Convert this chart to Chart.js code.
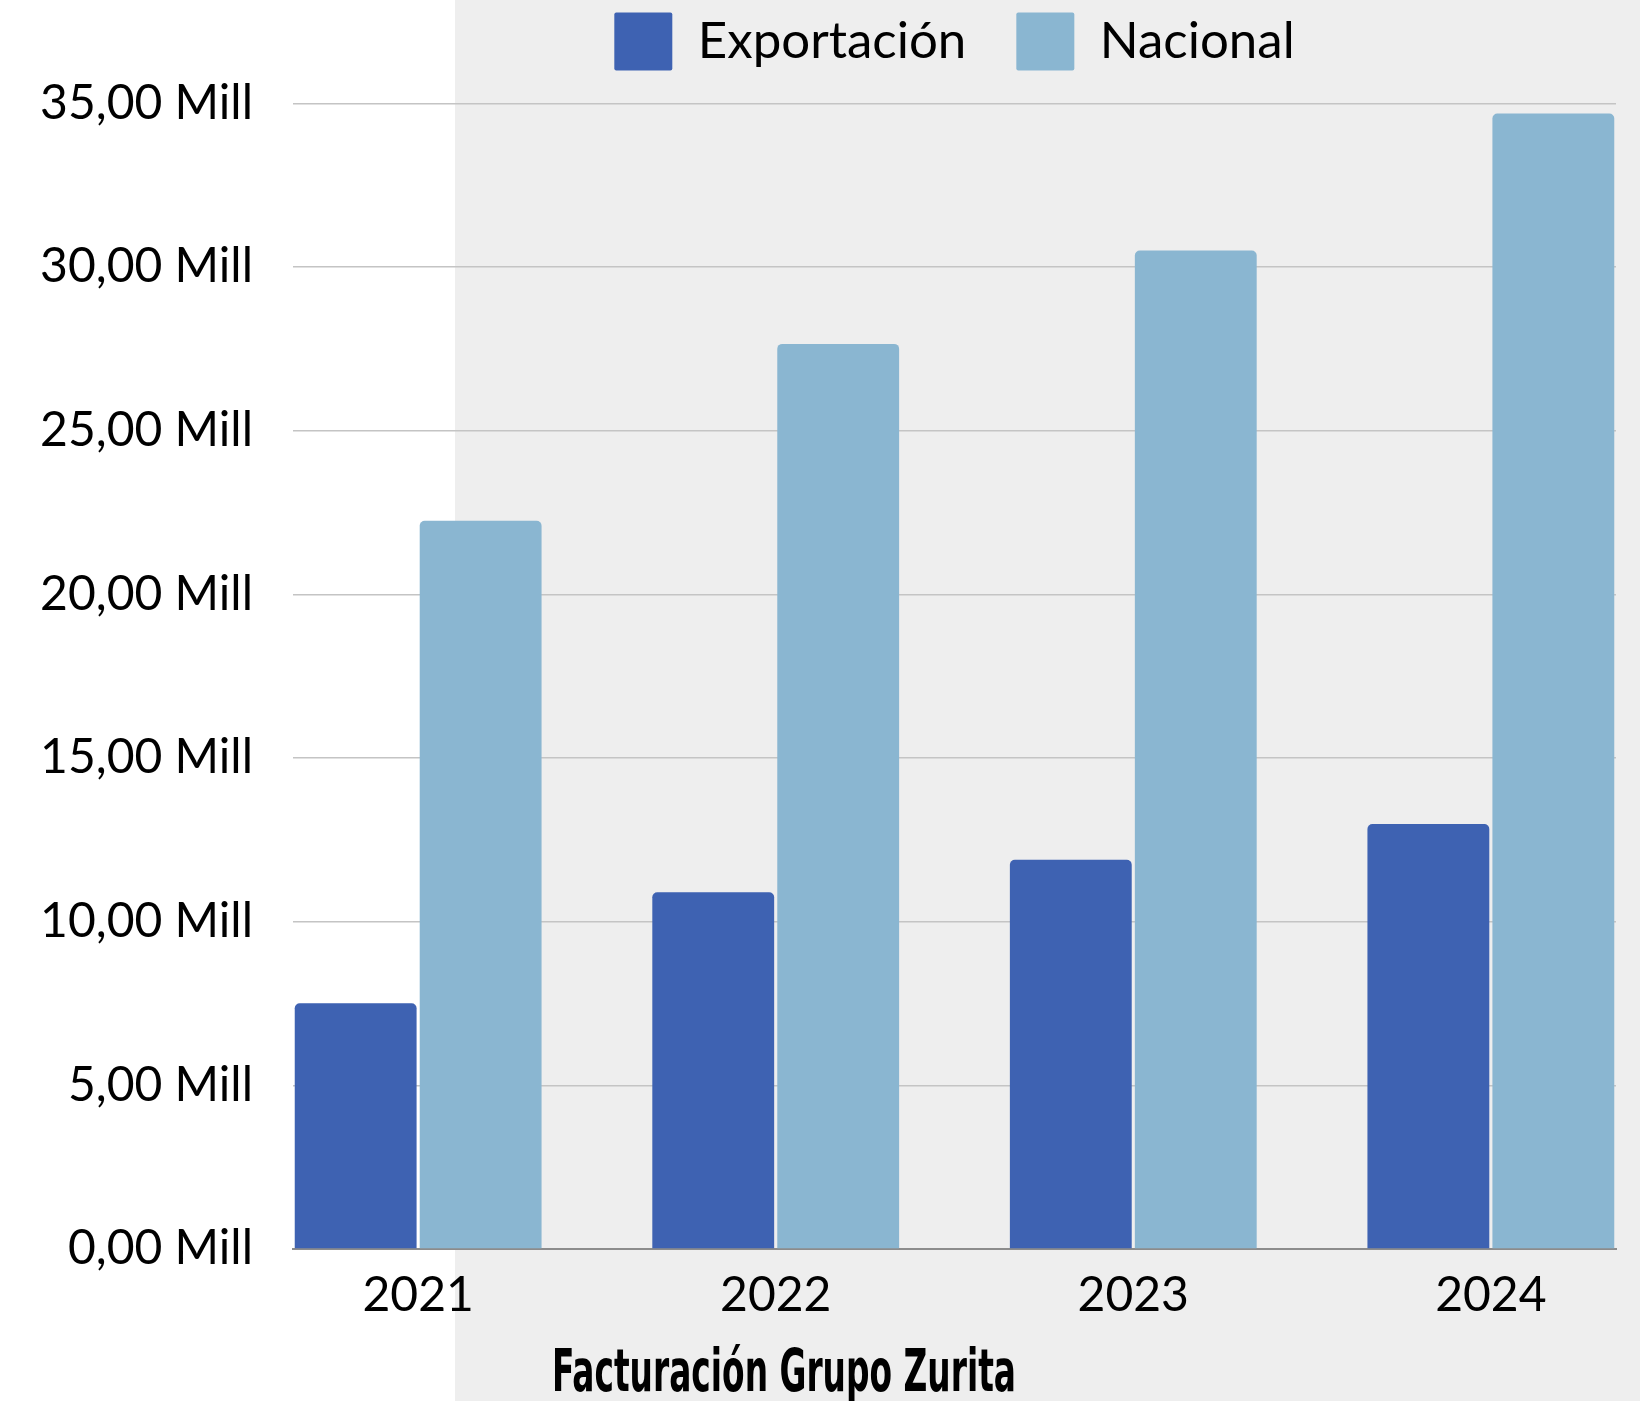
<!DOCTYPE html>
<html>
<head>
<meta charset="utf-8">
<script src="https://cdn.jsdelivr.net/npm/chart.js@4.4.1/dist/chart.umd.min.js"></script>
<style>
  html, body { margin: 0; padding: 0; }
  body {
    width: 1640px;
    height: 1401px;
    background: linear-gradient(to right, #ffffff 455px, #eeeeee 455px);
  }
  #wrap { width: 1640px; height: 1401px; }
</style>
</head>
<body>
<div id="wrap"><canvas id="chart"></canvas></div>
<script>
const years = ["2021", "2022", "2023", "2024"];
const exportacion = [7.51, 10.9, 11.89, 12.98];
const nacional = [22.25, 27.65, 30.5, 34.69];
const yTicks = [0, 5, 10, 15, 20, 25, 30, 35];
const titleText = "Facturación Grupo Zurita";

const BLUE = "#3e62b2";
const LIGHT = "#8ab6d1";
const labelFont = { family: "Lato, 'Open Sans', sans-serif", size: 48 };

// chart title drawn below the axis, condensed like the original
const bottomTitle = {
  id: "bottomTitle",
  afterDraw(chart) {
    const ctx = chart.ctx;
    ctx.save();
    ctx.font = "bold 58px 'Liberation Sans Narrow', 'DejaVu Sans Condensed', sans-serif";
    ctx.fillStyle = "#000";
    ctx.textBaseline = "alphabetic";
    ctx.textAlign = "center";
    const w = ctx.measureText(titleText).width;
    ctx.translate(784, 1391);
    ctx.scale(464 / w, 1);
    ctx.fillText(titleText, 0, 0);
    ctx.restore();
  },
};

const toPoints = (vals) => vals.map((v, i) => ({ x: i, y: v }));

new Chart(document.getElementById("chart"), {
  type: "bar",
  data: {
    datasets: [
      {
        label: "Exportación",
        data: toPoints(exportacion),
        backgroundColor: BLUE,
        borderRadius: { topLeft: 5, topRight: 5 },
        borderSkipped: "bottom",
      },
      {
        label: "Nacional",
        data: toPoints(nacional),
        backgroundColor: LIGHT,
        borderRadius: { topLeft: 5, topRight: 5 },
        borderSkipped: "bottom",
      },
    ],
  },
  options: {
    responsive: true,
    maintainAspectRatio: false,
    animation: false,
    categoryPercentage: 0.699,
    barPercentage: 0.975,
    layout: { padding: { left: 0, right: 24, top: -37.5, bottom: 0 } },
    plugins: {
      tooltip: { enabled: false },
      title: { display: false },
      // empty subtitle only keeps a gap between legend and plot
      subtitle: {
        display: true,
        text: "",
        position: "top",
        padding: 0,
        font: { size: 19, lineHeight: 1.2 },
      },
      legend: {
        position: "top",
        fullSize: false,
        weight: 3000,
        labels: {
          boxWidth: 58,
          boxHeight: 58,
          padding: 50,
          color: "#000",
          font: { family: labelFont.family, size: 51 },
          useBorderRadius: true,
          borderRadius: 2,
        },
      },
    },
    scales: {
      x: {
        type: "linear",
        offset: false,
        min: -0.35,
        max: 3.35,
        grid: { display: false, drawTicks: false },
        border: { display: true, color: "#8c8c8c", width: 2 },
        ticks: {
          stepSize: 1,
          includeBounds: false,
          padding: 18,
          color: "#000",
          font: labelFont,
          callback: (v) => years[v] ?? null,
        },
        afterFit: (scale) => { scale.height = 152; },
      },
      y: {
        min: 0,
        max: 35,
        afterBuildTicks: (scale) => {
          scale.ticks = yTicks.map((v) => ({ value: v }));
        },
        grid: { color: "#c4c4c4", lineWidth: 1.5, drawTicks: false },
        border: { display: false },
        ticks: {
          padding: 40,
          color: "#000",
          font: labelFont,
          callback: (v) => v.toFixed(2).replace(".", ",") + " Mill",
        },
        afterFit: (scale) => { scale.width = 293; },
      },
    },
  },
  plugins: [bottomTitle],
});
</script>
</body>
</html>
